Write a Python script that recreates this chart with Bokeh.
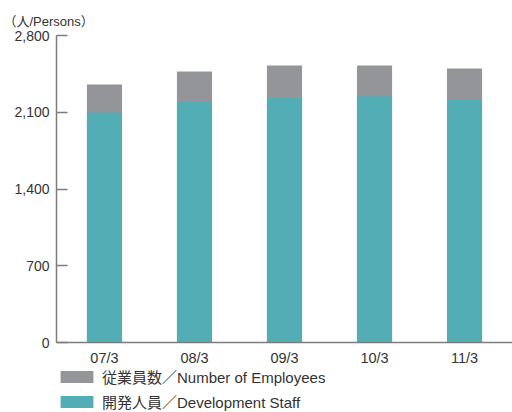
from bokeh.plotting import figure
from bokeh.layouts import column
from bokeh.models import FactorRange, Range1d, ColumnDataSource, Legend, LegendItem, FixedTicker, NumeralTickFormatter
from bokeh.embed import file_html
from bokeh.resources import INLINE

periods = ["07/3", "08/3", "09/3", "10/3", "11/3"]
employees = [2353, 2472, 2526, 2526, 2499]
dev_staff = [2098, 2198, 2235, 2247, 2216]
y_ticks = [0, 700, 1400, 2100, 2800]
series_labels = ["従業員数／Number of Employees", "開発人員／Development Staff"]
unit_label = "（人/Persons）"

FONT = "'Liberation Sans', 'Noto Sans CJK JP', sans-serif"
GRAY = "#949599"
TEAL = "#53adb5"
AXIS = "#7d7d7d"

# main chart
src = ColumnDataSource(dict(x=periods, emp=employees, dev=dev_staff))

p = figure(width=512, height=368, output_backend="svg", toolbar_location=None,
           x_range=FactorRange(factors=periods, range_padding=0.033, range_padding_units="absolute"),
           y_range=Range1d(0, 2800), title=unit_label)
p.min_border_left = 56
p.min_border_right = 0
p.min_border_top = 35
p.min_border_bottom = 26
p.outline_line_color = None
p.grid.visible = False

p.title.align = "left"
p.title.offset = -53
p.title.standoff = 14
p.title.text_font = FONT
p.title.text_font_size = "13px"
p.title.text_font_style = "normal"
p.title.text_color = "#333333"

r1 = p.vbar(x="x", top="emp", width=0.39, source=src, fill_color=GRAY, line_color=None)
r2 = p.vbar(x="x", top="dev", width=0.39, source=src, fill_color=TEAL, line_color=None)

ya = p.yaxis[0]
ya.ticker = FixedTicker(ticks=y_ticks)
ya.formatter = NumeralTickFormatter(format="0,0")
ya.axis_line_color = AXIS
ya.axis_line_width = 1.5
ya.major_tick_line_color = AXIS
ya.major_tick_line_width = 1.5
ya.major_tick_in = 11
ya.major_tick_out = 0
ya.minor_tick_line_color = None
ya.major_label_standoff = 7
ya.major_label_text_font = FONT
ya.major_label_text_font_size = "14px"
ya.major_label_text_color = "#333333"

xa = p.xaxis[0]
xa.axis_line_color = AXIS
xa.axis_line_width = 1.5
xa.major_tick_line_color = None
xa.minor_tick_line_color = None
xa.major_label_standoff = 1
xa.major_label_text_font = FONT
xa.major_label_text_font_size = "14.5px"
xa.major_label_text_color = "#333333"

# legend strip (frame aligned with the main chart's frame; swatch renderers lie outside its range)
lg = figure(width=512, height=44, output_backend="svg", toolbar_location=None,
            x_range=Range1d(0, 1), y_range=Range1d(0, 1),
            x_axis_location=None, y_axis_location=None)
lg.min_border_left = 0
lg.min_border_right = 0
lg.min_border_top = 0
lg.min_border_bottom = 0
lg.outline_line_color = None
lg.grid.visible = False
dummy = ColumnDataSource(dict(x=[5], top=[5]))
d1 = lg.vbar(x="x", top="top", bottom=4, width=1, source=dummy, fill_color=GRAY, line_color=None)
d2 = lg.vbar(x="x", top="top", bottom=4, width=1, source=dummy, fill_color=TEAL, line_color=None)

legend = Legend(items=[LegendItem(label=series_labels[0], renderers=[d1]),
                       LegendItem(label=series_labels[1], renderers=[d2])],
                location=(0, 0), orientation="vertical")
legend.glyph_width = 41
legend.glyph_height = 15
legend.label_height = 16
legend.spacing = 4
legend.padding = 0
legend.margin = 0
legend.label_standoff = 5
legend.border_line_color = None
legend.background_fill_alpha = 0
legend.label_text_font = FONT
legend.label_text_font_size = "15px"
legend.label_text_color = "#333333"
lg.add_layout(legend, "center")

layout = column(p, lg, spacing=0)
open("out.html", "w").write(file_html(layout, INLINE))
